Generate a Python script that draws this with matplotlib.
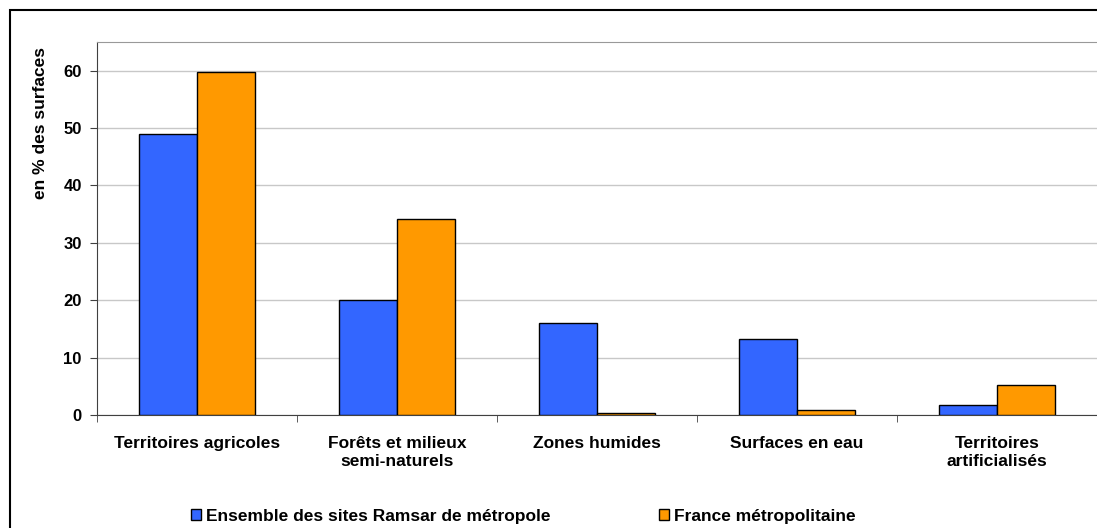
import matplotlib
matplotlib.use("Agg")
import matplotlib.pyplot as plt
import numpy as np
from matplotlib.patches import Rectangle

plt.rcParams['font.family'] = ['Liberation Sans', 'DejaVu Sans']
plt.rcParams['font.weight'] = 'bold'

# Données
categories = ["Territoires agricoles", "Forêts et milieux\nsemi-naturels", "Zones humides",
              "Surfaces en eau", "Territoires\nartificialisés"]
ramsar = [49.0, 20.1, 16.1, 13.3, 1.8]
france = [59.8, 34.1, 0.3, 0.9, 5.2]
series_names = ["Ensemble des sites Ramsar de métropole", "France métropolitaine"]
yticks = [0, 10, 20, 30, 40, 50, 60]

W, H = 1097, 528
fs = 12.5
fig = plt.figure(figsize=(W / 100, H / 100), dpi=100)

# cadre extérieur
fig.patches.append(Rectangle((10 / W, -0.1), 1.2, 1 - 10 / H + 0.1, transform=fig.transFigure,
                             fill=False, edgecolor="black", linewidth=1.5))

ax = fig.add_axes([97 / W, (H - 415) / H, 1000 / W, (415 - 42) / H])

x = np.arange(len(categories)) + 0.5
largeur = 0.29
b1 = ax.bar(x - largeur / 2, ramsar, largeur, color="#3366FF", edgecolor="black", linewidth=1, zorder=3)
b2 = ax.bar(x + largeur / 2, france, largeur, color="#FF9900", edgecolor="black", linewidth=1, zorder=3)

ax.set_xlim(0, len(categories))
ax.set_ylim(0, 65)
ax.set_yticks(yticks)
ax.set_yticklabels([str(v) for v in yticks], fontsize=12, fontweight="bold")
ax.yaxis.grid(True, color="#c8c8c8", linewidth=1, zorder=0)

ax.set_xticks(x)
ax.set_xticklabels(categories, fontsize=fs, fontweight="bold", linespacing=1.3)
ax.tick_params(axis="x", which="major", length=0, pad=15)
ax.set_xticks(np.arange(len(categories) + 1), minor=True)
ax.tick_params(axis="x", which="minor", length=5, direction="out", color="#404040")
ax.tick_params(axis="y", length=5, direction="out", color="#404040", pad=6)

ax.spines["top"].set_color("#999999")
ax.spines["right"].set_visible(False)
ax.spines["left"].set_color("#404040")
ax.spines["bottom"].set_color("#404040")

ax.set_ylabel("en % des surfaces", fontsize=fs, fontweight="bold")
ax.yaxis.set_label_coords(-0.049, 0.783)

# légende : deux blocs placés côte à côte
ypos = (H - 516) / H
for barres, nom, xg in [(b1, series_names[0], 191), (b2, series_names[1], 659)]:
    leg = fig.legend([barres], [nom], loc="center left", bbox_to_anchor=(xg / W, ypos),
                     frameon=False, borderpad=0, borderaxespad=0, handlelength=0.6,
                     handleheight=0.6, handletextpad=0.25,
                     prop={"weight": "bold", "size": fs})

fig.savefig("out.png", dpi=100)
